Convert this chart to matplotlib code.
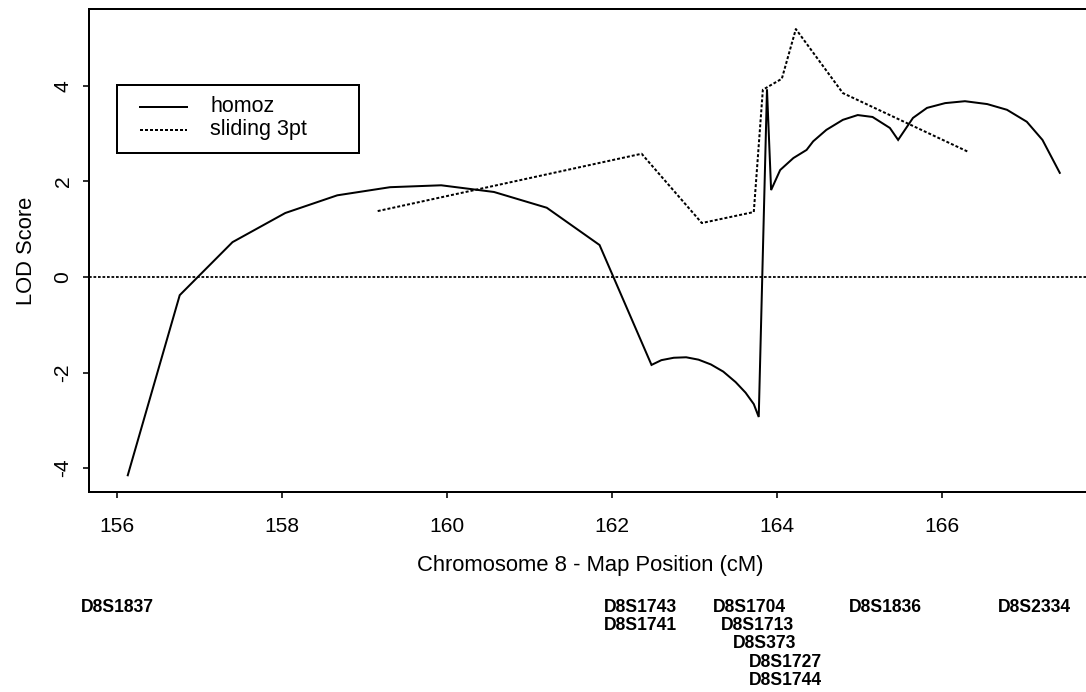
import matplotlib
matplotlib.use("Agg")
import matplotlib.pyplot as plt
from matplotlib.patches import Rectangle
from matplotlib.lines import Line2D

plt.rcParams['font.family'] = ['Liberation Sans', 'DejaVu Sans']

# ---- data ----
homoz_x = [156.13, 156.76, 157.40, 158.04, 158.67, 159.31, 159.93, 160.57, 161.21, 161.85,
           162.48, 162.60, 162.75, 162.90, 163.05, 163.20, 163.35, 163.50, 163.62, 163.72,
           163.78, 163.88, 163.93, 164.04, 164.20, 164.36, 164.44, 164.60, 164.80, 164.98,
           165.16, 165.37, 165.47, 165.65, 165.82, 166.04, 166.28, 166.55, 166.79, 167.03,
           167.22, 167.43]
homoz_y = [-4.15, -0.38, 0.73, 1.34, 1.71, 1.88, 1.92, 1.78, 1.45, 0.67,
           -1.84, -1.74, -1.69, -1.68, -1.73, -1.83, -1.98, -2.20, -2.42, -2.66,
           -2.93, 3.93, 1.82, 2.24, 2.49, 2.66, 2.84, 3.08, 3.29, 3.39,
           3.35, 3.12, 2.87, 3.33, 3.54, 3.64, 3.68, 3.62, 3.50, 3.25,
           2.87, 2.18]

sliding_x = [159.16, 162.36, 163.09, 163.72, 163.83, 164.06, 164.23, 164.80, 166.32]
sliding_y = [1.38, 2.58, 1.13, 1.36, 3.92, 4.15, 5.19, 3.85, 2.62]

series_labels = ["homoz", "sliding 3pt"]

marker_names = ["D8S1837", "D8S1743", "D8S1741", "D8S1704", "D8S1713",
                "D8S373", "D8S1727", "D8S1744", "D8S1836", "D8S2334"]
marker_pos = [156.00, 162.35, 162.35, 163.67, 163.76, 163.85, 164.10, 164.10, 165.32, 167.12]
marker_row = [0, 0, 1, 0, 1, 2, 3, 4, 0, 0]

x_ticks = [156, 158, 160, 162, 164, 166]
y_ticks = [-4, -2, 0, 2, 4]

# ---- figure geometry (pixels at dpi 72) ----
W, H = 1086, 692
fig = plt.figure(figsize=(W / 72, H / 72), dpi=72)
ax_l, ax_r, ax_t, ax_b = 89, 1087, 9, 492
ax = fig.add_axes([ax_l / W, (H - ax_b) / H, (ax_r - ax_l) / W, (ax_b - ax_t) / H])

dot = (0, (1.5, 1.0))
lw = 2.0
ax.plot(homoz_x, homoz_y, color='black', lw=lw, solid_joinstyle='miter')
ax.plot(sliding_x, sliding_y, color='black', lw=lw, linestyle=dot)
ax.axhline(0, color='black', lw=1.8, linestyle=dot)

ax.set_xlim(155.66, 167.76)
ax.set_ylim(-4.50, 5.61)
ax.set_xticks(x_ticks)
ax.set_yticks(y_ticks)
ax.set_xticklabels([str(t) for t in x_ticks])
ax.set_yticklabels([str(t) for t in y_ticks], rotation=90, va='center')
ax.tick_params(axis='x', length=6, width=1.6, labelsize=21, pad=18.5, direction='out')
ax.tick_params(axis='y', length=6, width=1.6, labelsize=21, pad=10.5, direction='out')
for s in ax.spines.values():
    s.set_linewidth(2.0)
ax.spines['right'].set_visible(False)

ax.set_xlabel("Chromosome 8 - Map Position (cM)", fontsize=22, va='center')
ax.xaxis.set_label_coords((590 - ax_l) / (ax_r - ax_l), -(565 - ax_b) / (ax_b - ax_t))
ax.set_ylabel("LOD Score", fontsize=22, va='center')
ax.yaxis.set_label_coords((26 - ax_l) / (ax_r - ax_l), 0.5)

# ---- marker labels under the axis ----
base_off = 612 - ax_b
row_step = 18.25
for name, pos, row in zip(marker_names, marker_pos, marker_row):
    ax.annotate(name, xy=(pos, 0), xycoords=('data', 'axes fraction'),
                xytext=(0, -(base_off + row * row_step)), textcoords='offset points',
                ha='center', va='baseline', fontsize=17.5, fontweight='bold',
                annotation_clip=False)

# ---- legend box (R style) ----
def fx(px):
    return px / W

def fy(py):
    return (H - py) / H

fig.patches.append(Rectangle((fx(117), fy(153)), fx(359) - fx(117), fy(85) - fy(153),
                             transform=fig.transFigure, fill=True, facecolor='white',
                             edgecolor='black', lw=2.0, zorder=5))
for i, (lab, ls) in enumerate(zip(series_labels, ['-', dot])):
    yy = 107 + 23 * i
    fig.lines.append(Line2D([fx(140), fx(187)], [fy(yy), fy(yy)], transform=fig.transFigure,
                            color='black', lw=lw, linestyle=ls, zorder=6))
    fig.text(fx(210), fy(yy), lab, fontsize=21.5, va='center', ha='left', zorder=6)

fig.savefig("out.png", dpi=72)
